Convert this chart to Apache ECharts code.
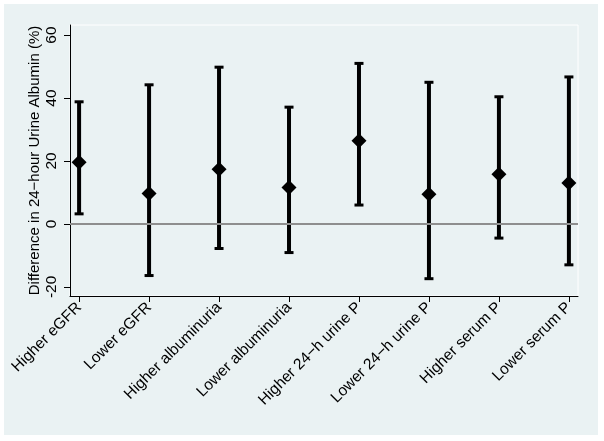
<!DOCTYPE html>
<html>
<head>
<meta charset="utf-8">
<script src="https://cdn.jsdelivr.net/npm/echarts@6/dist/echarts.min.js"></script>
<style>html,body{margin:0;padding:0;background:#fff}#c{width:604px;height:441px}</style>
</head>
<body>
<div id="c"></div>
<script>
var categories = ["Higher eGFR", "Lower eGFR", "Higher albuminuria", "Lower albuminuria", "Higher 24\u2212h urine P", "Lower 24\u2212h urine P", "Higher serum P", "Lower serum P"];
var estimates = [19.6, 9.7, 17.4, 11.6, 26.4, 9.4, 15.8, 13.0];
var lowerCI = [3.2, -16.4, -7.8, -9.1, 6.0, -17.4, -4.5, -13.0];
var upperCI = [38.8, 44.2, 49.8, 37.1, 51.0, 45.0, 40.4, 46.7];
var yTicks = [-20, 0, 20, 40, 60];
var xTicks = [1, 2, 3, 4, 5, 6, 7, 8];

var ciData = categories.map(function (c, i) { return [i + 1, lowerCI[i], upperCI[i]]; });
var ptData = categories.map(function (c, i) { return [i + 1, estimates[i]]; });
var FONT = '"Liberation Sans", Arial, sans-serif';
var chart = echarts.init(document.getElementById('c'));
chart.setOption({
  backgroundColor: '#eaf2f3',
  animation: false,
  graphic: [{
    type: 'rect', silent: true, z: 100,
    shape: { x: 0, y: 0, width: 602, height: 439 },
    style: { fill: null, stroke: '#ffffff', lineWidth: 8 }
  }],
  grid: { left: 70, right: 26, top: 25, bottom: 145, show: true, backgroundColor: '#eaf2f3', borderColor: '#ffffff', borderWidth: 1 },
  xAxis: {
    type: 'value', min: 0.87, max: 8.13,
    splitLine: { show: false },
    axisLine: { show: true, onZero: false, lineStyle: { color: '#000', width: 1 } },
    axisTick: { show: true, length: 6, customValues: xTicks, lineStyle: { color: '#000' } },
    axisLabel: { customValues: xTicks, rotate: 45, margin: 9, color: '#000', fontSize: 15.5, fontFamily: FONT,
      formatter: function (v) { return categories[Math.round(v) - 1] || ''; } }
  },
  yAxis: {
    type: 'value', min: -22.9, max: 63.2,
    name: 'Difference in 24\u2212hour Urine Albumin (%)',
    nameLocation: 'middle', nameGap: 28, nameMoveOverlap: false,
    nameTextStyle: { color: '#000', fontSize: 15, fontFamily: FONT },
    splitLine: { show: false },
    axisLine: { show: true, lineStyle: { color: '#000', width: 1 } },
    axisTick: { show: true, length: 6, customValues: yTicks, lineStyle: { color: '#000' } },
    axisLabel: { customValues: yTicks, rotate: 90, margin: 10, color: '#000', fontSize: 15.5, fontFamily: FONT }
  },
  series: [{
    type: 'custom',
    data: ciData,
    z: 3,
    renderItem: function (params, api) {
      var x = api.value(0);
      var lo = api.coord([x, api.value(1)]);
      var hi = api.coord([x, api.value(2)]);
      var hw = 4.5;
      return {
        type: 'group',
        children: [
          { type: 'line', shape: { x1: lo[0], y1: lo[1], x2: hi[0], y2: hi[1] }, style: { stroke: '#000', lineWidth: 4 } },
          { type: 'line', shape: { x1: lo[0] - hw, y1: lo[1], x2: lo[0] + hw, y2: lo[1] }, style: { stroke: '#000', lineWidth: 3 } },
          { type: 'line', shape: { x1: hi[0] - hw, y1: hi[1], x2: hi[0] + hw, y2: hi[1] }, style: { stroke: '#000', lineWidth: 3 } }
        ]
      };
    }
  }, {
    type: 'scatter',
    data: ptData,
    symbol: 'diamond',
    symbolSize: [15, 15],
    z: 4,
    itemStyle: { color: '#000', opacity: 1 },
    markLine: {
      silent: true, symbol: ['none', 'none'], label: { show: false },
      lineStyle: { color: '#8e8e8e', width: 2, type: 'solid' },
      data: [{ yAxis: 0 }]
    }
  }]
});
</script>
</body>
</html>
